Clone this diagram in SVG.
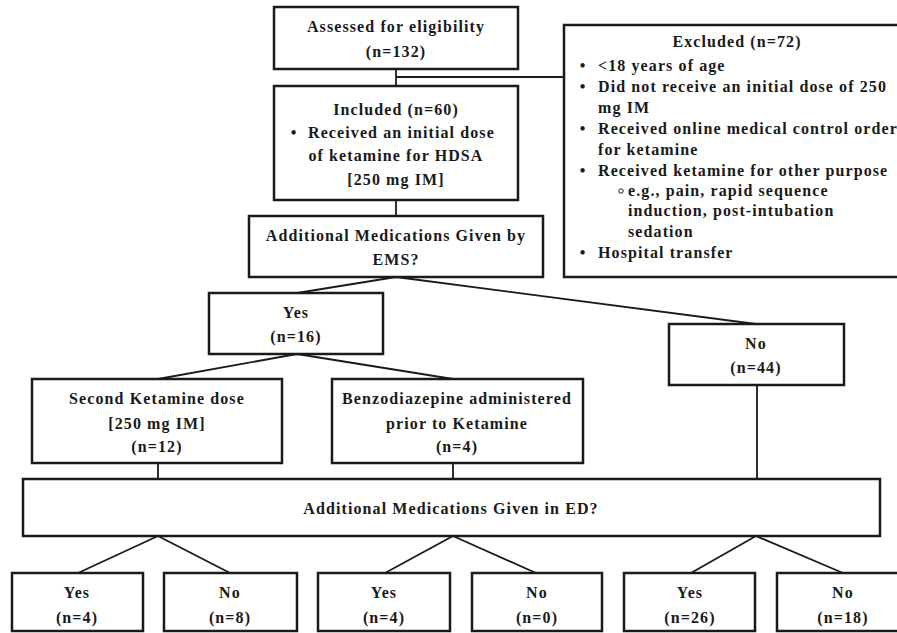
<svg xmlns="http://www.w3.org/2000/svg" width="897" height="633" viewBox="0 0 897 633">
<style>
.box{fill:#fff;stroke:#1a1a1a;stroke-width:2.5}
.ln{fill:none;stroke:#1a1a1a;stroke-width:1.8}
text{font-family:"Liberation Serif","Times New Roman",serif;font-weight:bold;font-size:16px;letter-spacing:1.1px;fill:#1a1a1a}
.c{text-anchor:middle}
</style>
<rect width="897" height="633" fill="#fff"/>
<g id="connectors">
<path class="ln" d="M396 69V86M396 77H564"/>
<path class="ln" d="M396 200V216"/>
<path class="ln" d="M396 277L297 293M396 277L756 324"/>
<path class="ln" d="M297 354L158 379M297 354L453 379"/>
<path class="ln" d="M158 463V479M453 463V479M757 385V479"/>
<path class="ln" d="M158 536L78 573M158 536L230 573M453 536L385 573M453 536L536 573M756 536L691 573M756 536L843 573"/>
</g>
<g id="assessed">
<rect class="box" x="274" y="7" width="244" height="62"/>
<text class="c" x="396" y="32">Assessed for eligibility</text>
<text class="c" x="396" y="57">(n=132)</text>
</g>
<g id="excluded">
<rect class="box" x="564" y="25" width="350" height="252"/>
<text class="c" x="737" y="46.5">Excluded (n=72)</text>
<text class="c" x="583" y="70.5">•</text><text x="598" y="70.5">&lt;18 years of age</text>
<text class="c" x="583" y="91.5">•</text><text x="598" y="91.5">Did not receive an initial dose of 250</text>
<text x="598" y="113">mg IM</text>
<text class="c" x="583" y="133.5">•</text><text x="598" y="133.5">Received online medical control order</text>
<text x="598" y="154.5">for ketamine</text>
<text class="c" x="583" y="176">•</text><text x="598" y="176">Received ketamine for other purpose</text>
<circle cx="621" cy="191" r="2.2" fill="none" stroke="#1a1a1a" stroke-width="1"/><text x="628" y="195.5">e.g., pain, rapid sequence</text>
<text x="628" y="216">induction, post-intubation</text>
<text x="628" y="236.5">sedation</text>
<text class="c" x="583" y="257.5">•</text><text x="598" y="257.5">Hospital transfer</text>
</g>
<g id="included">
<rect class="box" x="274" y="86" width="244" height="114"/>
<text class="c" x="396" y="114.5">Included (n=60)</text>
<text class="c" x="294" y="137.5">•</text><text x="308" y="137.5">Received an initial dose</text>
<text class="c" x="396" y="161">of ketamine for HDSA</text>
<text class="c" x="396" y="184.5">[250 mg IM]</text>
</g>
<g id="ems">
<rect class="box" x="249" y="216" width="294" height="61"/>
<text class="c" x="396" y="240.5">Additional Medications Given by</text>
<text class="c" x="396" y="264.5">EMS?</text>
</g>
<g id="yes16">
<rect class="box" x="209" y="293" width="174" height="61"/>
<text class="c" x="296" y="317.5">Yes</text>
<text class="c" x="296" y="341.5">(n=16)</text>
</g>
<g id="no44">
<rect class="box" x="669" y="324" width="175" height="61"/>
<text class="c" x="756" y="348.5">No</text>
<text class="c" x="756" y="372.5">(n=44)</text>
</g>
<g id="second">
<rect class="box" x="32" y="379" width="250" height="84"/>
<text class="c" x="157" y="403.5">Second Ketamine dose</text>
<text class="c" x="157" y="428.5">[250 mg IM]</text>
<text class="c" x="157" y="451.5">(n=12)</text>
</g>
<g id="benzo">
<rect class="box" x="332" y="379" width="251" height="84"/>
<text class="c" x="457" y="403.5">Benzodiazepine administered</text>
<text class="c" x="457" y="428.5">prior to Ketamine</text>
<text class="c" x="457" y="451.5">(n=4)</text>
</g>
<g id="ed">
<rect class="box" x="23" y="479" width="857" height="57"/>
<text class="c" x="451" y="513.5">Additional Medications Given in ED?</text>
</g>
<g id="yes4a">
<rect class="box" x="12" y="573" width="131" height="58"/>
<text class="c" x="77" y="597.5">Yes</text>
<text class="c" x="77" y="622.5">(n=4)</text>
</g>
<g id="no8">
<rect class="box" x="164" y="573" width="133" height="58"/>
<text class="c" x="230" y="597.5">No</text>
<text class="c" x="230" y="622.5">(n=8)</text>
</g>
<g id="yes4b">
<rect class="box" x="318" y="573" width="132" height="58"/>
<text class="c" x="384" y="597.5">Yes</text>
<text class="c" x="384" y="622.5">(n=4)</text>
</g>
<g id="no0">
<rect class="box" x="472" y="573" width="130" height="58"/>
<text class="c" x="537" y="597.5">No</text>
<text class="c" x="537" y="622.5">(n=0)</text>
</g>
<g id="yes26">
<rect class="box" x="624" y="573" width="131" height="58"/>
<text class="c" x="690" y="597.5">Yes</text>
<text class="c" x="690" y="622.5">(n=26)</text>
</g>
<g id="no18">
<rect class="box" x="777" y="573" width="131" height="58"/>
<text class="c" x="843" y="597.5">No</text>
<text class="c" x="843" y="622.5">(n=18)</text>
</g>
</svg>
